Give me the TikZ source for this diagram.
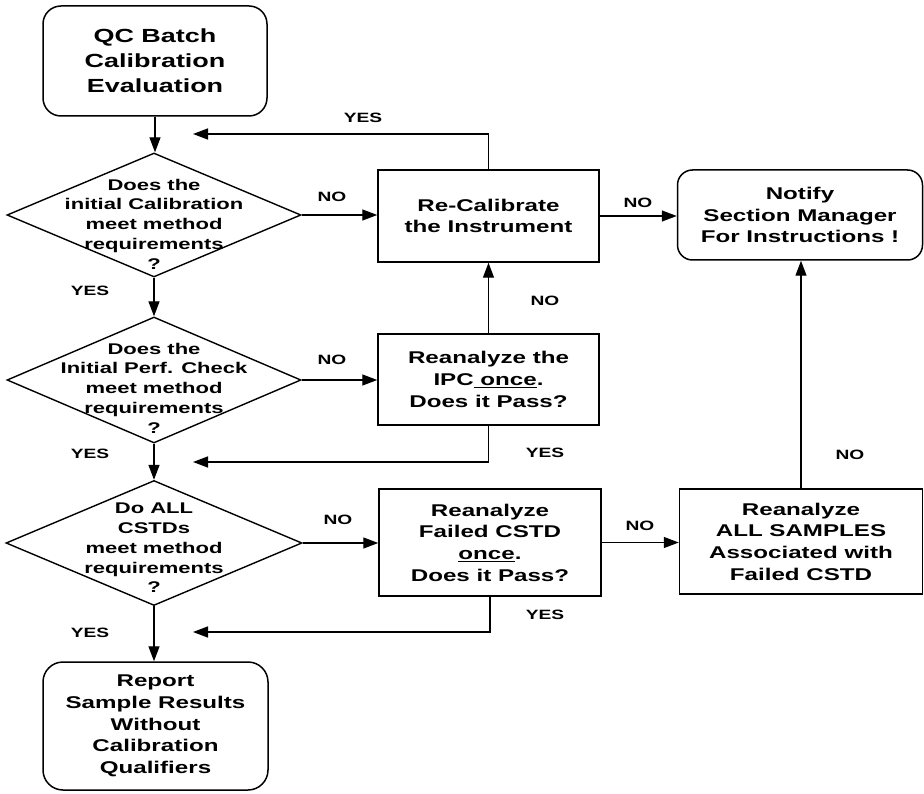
\documentclass[tikz,border=0pt]{standalone}
\usepackage{fontspec}
\setmainfont{Liberation Sans}[FakeStretch=1.42]
\usetikzlibrary{arrows.meta,shapes.geometric}
\begin{document}
\begin{tikzpicture}[x=1pt,y=-1pt,
  every node/.style={font=\bfseries, text=black},
  conn/.style={line width=1.4pt, draw=black},
  arr/.style={conn,-{Triangle[length=15pt,width=11pt]}},
  box/.style={draw, line width=1.5pt, rectangle, inner sep=0pt, align=center,
    font=\bfseries\fontsize{17}{21.7}\selectfont},
  rbox/.style={box, rounded corners=18pt},
  dia/.style={draw, line width=1.4pt, diamond, inner sep=0pt},
  diatxt/.style={align=center, inner sep=0pt, font=\bfseries\fontsize{15.5}{19.8}\selectfont},
  lbl/.style={font=\bfseries\fontsize{13.5}{15}\selectfont}
]
\useasboundingbox[fill=white] (0,0) rectangle (924,794);

% boxes
\node[rbox, minimum width=224pt, minimum height=110pt,
  font=\bfseries\fontsize{19}{25}\selectfont] (start) at (155,61)
  {QC Batch\\Calibration\\Evaluation};
\node[box, minimum width=221pt, minimum height=92pt] (recal) at (488.5,216)
  {Re-Calibrate\\the Instrument};
\node[rbox, rounded corners=15pt, minimum width=245pt, minimum height=90pt] (notify) at (800,215)
  {Notify\\Section Manager\\For Instructions !};
\node[box, minimum width=221pt, minimum height=91pt] (ipc) at (488.5,379.5)
  {Reanalyze the\\IPC\underline{\ once}.\\Does it Pass?};
\node[box, minimum width=222pt, minimum height=107pt] (cstd) at (490,542.5)
  {Reanalyze\\Failed CSTD\\\underline{once}.\\Does it Pass?};
\node[box, minimum width=243pt, minimum height=105pt] (all) at (801,541.5)
  {Reanalyze\\ALL SAMPLES\\Associated with\\Failed CSTD};
\node[rbox, rounded corners=20pt, minimum width=225pt, minimum height=128pt] (final) at (155.5,726)
  {Report\\Sample Results\\Without\\Calibration\\Qualifiers};

% diamonds
\node[dia, minimum width=294pt, minimum height=124pt] (d1) at (154,215) {};
\node[diatxt] (d1t) at (154,224) {Does the\\initial Calibration\\meet method\\requirements\\?};
\node[dia, minimum width=294pt, minimum height=126pt] (d2) at (154,380) {};
\node[diatxt] (d2t) at (154,388) {Does the\\Initial Perf. Check\\meet method\\requirements\\?};
\node[dia, minimum width=296pt, minimum height=125pt] (d3) at (154,543) {};
\node[diatxt] (d3t) at (154,548) {Do ALL\\CSTDs\\meet method\\requirements\\?};

% free ends
\coordinate (r1) at (193,134);
\coordinate (r2) at (193,462);
\coordinate (r3) at (193,632);

% connectors
\draw[arr] (start.south) -- (start.south |- d1.north);
\draw[arr] (d1.east) -- (d1.east -| recal.west);
\draw[arr] (recal.north) |- (r1);
\draw[arr] (recal.east) -- (recal.east -| notify.west);
\draw[arr] (d1.south) -- (d2.north);
\draw[arr] (d2.east) -- (d2.east -| ipc.west);
\draw[arr] (ipc.north) -- (recal.south);
\draw[arr] (ipc.south) |- (r2);
\draw[arr] (d2.south) -- (d2.south |- d3.north);
\draw[arr] (d3.east) -- (d3.east -| cstd.west);
\draw[arr] (cstd.east) -- (cstd.east -| all.west);
\draw[arr] (all.north) -- (all.north |- notify.south);
\draw[arr] (cstd.south) |- (r3);
\draw[arr] (d3.south) -- (d3.south |- final.north);

% labels
\node[lbl] (l1) at (363,118) {YES};
\node[lbl] (l2) at (332,197) {NO};
\node[lbl] (l3) at (638,203) {NO};
\node[lbl] (l4) at (90,291) {YES};
\node[lbl] (l5) at (332,360) {NO};
\node[lbl] (l6) at (545,301) {NO};
\node[lbl] (l7) at (545,453) {YES};
\node[lbl] (l8) at (90,454) {YES};
\node[lbl] (l9) at (338,520) {NO};
\node[lbl] (l10) at (640,526) {NO};
\node[lbl] (l11) at (850,455) {NO};
\node[lbl] (l12) at (545,615) {YES};
\node[lbl] (l13) at (90,633) {YES};
\end{tikzpicture}
\end{document}
